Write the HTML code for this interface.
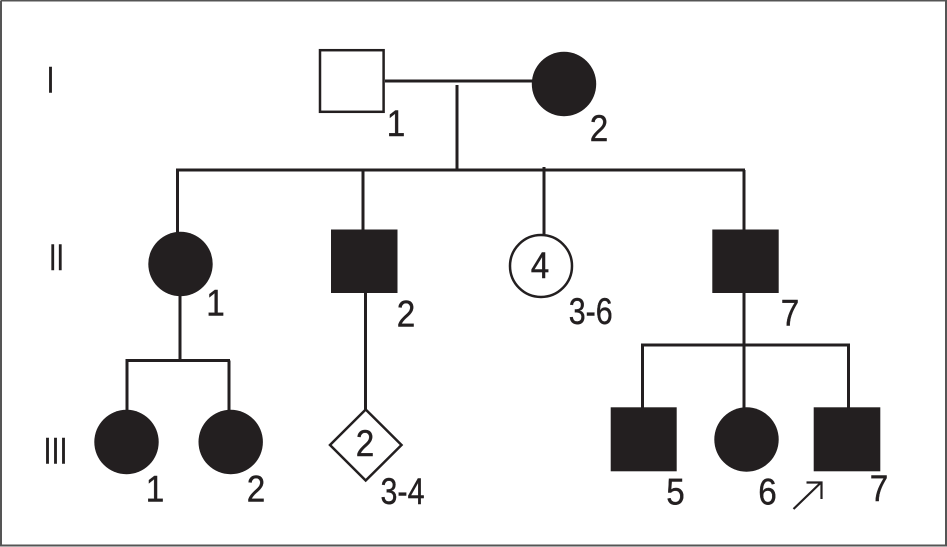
<!DOCTYPE html>
<html>
<head>
<meta charset="utf-8">
<style>
html,body{margin:0;padding:0;background:#fff;width:947px;height:547px;overflow:hidden}
svg{display:block}
text{font-family:"Liberation Sans",sans-serif;fill:#231f20;stroke:#231f20;stroke-width:.4;font-size:37px;text-anchor:middle}
.s{stroke:#231f20;stroke-width:3;fill:none}
.f{fill:#231f20;stroke:none}
</style>
</head>
<body>
<svg width="947" height="547" viewBox="0 0 947 547" xmlns="http://www.w3.org/2000/svg">
<rect width="947" height="547" fill="#fff"/>
<path d="M1 0.5V545.5H946V0.5H1" fill="none" stroke="#555" stroke-width="2"/>
<!-- connectors -->
<path class="s" d="M385 81H533M457 85V170M176 170H745M177.500 170V234M363 170V230M544 167V234M744 170V230M180 295V360.500M125.500 360.500H230M127 360.500V411M229 360.500V411M365.500 292V411M744 292V408M641 345H850M642.500 345V408M848.500 345V408"/>
<!-- gen I -->
<rect x="320" y="50.200" width="63.600" height="61.600" fill="#fff" stroke="#231f20" stroke-width="2.500"/>
<circle cx="564" cy="84" r="32.200" class="f"/>
<!-- gen II -->
<circle cx="180.500" cy="264" r="32.200" class="f"/>
<rect x="331" y="229.500" width="66.500" height="63.500" class="f"/>
<circle cx="541" cy="266" r="31" fill="#fff" stroke="#231f20" stroke-width="2.500"/>
<rect x="712.300" y="229.500" width="66.400" height="63.500" class="f"/>
<!-- gen III -->
<circle cx="126.500" cy="442" r="32.200" class="f"/>
<circle cx="230.700" cy="442" r="32.200" class="f"/>
<polygon points="365.700,409.500 401.500,445 365.700,480.500 330,445" fill="#fff" stroke="#231f20" stroke-width="2.500"/>
<rect x="610.700" y="407.300" width="66" height="64" class="f"/>
<circle cx="746.500" cy="439.500" r="32.200" class="f"/>
<rect x="813.700" y="407.300" width="66.600" height="64" class="f"/>
<!-- arrow -->
<path d="M793.500 509L821 482.500M806.500 482.500H821.500V499" fill="none" stroke="#231f20" stroke-width="2.200"/>
<!-- labels -->
<text x="50.500" y="92.700" textLength="8" lengthAdjust="spacingAndGlyphs">I</text>
<text x="56.500" y="270" textLength="15" lengthAdjust="spacingAndGlyphs">II</text>
<text x="55.500" y="463.300" textLength="24" lengthAdjust="spacingAndGlyphs">III</text>
<text x="396" y="136" textLength="18.500" lengthAdjust="spacingAndGlyphs">1</text>
<text x="599" y="141" textLength="18.500" lengthAdjust="spacingAndGlyphs">2</text>
<text x="215.500" y="315.700" textLength="18.500" lengthAdjust="spacingAndGlyphs">1</text>
<text x="406" y="326.700" textLength="18.500" lengthAdjust="spacingAndGlyphs">2</text>
<text x="540" y="278" textLength="18.500" lengthAdjust="spacingAndGlyphs">4</text>
<text x="590.700" y="324" textLength="44" lengthAdjust="spacingAndGlyphs">3-6</text>
<text x="790" y="325.700" textLength="18.500" lengthAdjust="spacingAndGlyphs">7</text>
<text x="155" y="501.700" textLength="18.500" lengthAdjust="spacingAndGlyphs">1</text>
<text x="256" y="501.700" textLength="18.500" lengthAdjust="spacingAndGlyphs">2</text>
<text x="365" y="456" textLength="18.500" lengthAdjust="spacingAndGlyphs">2</text>
<text x="402.500" y="504" textLength="44" lengthAdjust="spacingAndGlyphs">3-4</text>
<text x="675.500" y="504.700" textLength="18.500" lengthAdjust="spacingAndGlyphs">5</text>
<text x="767.500" y="504.700" textLength="18.500" lengthAdjust="spacingAndGlyphs">6</text>
<text x="879" y="501" textLength="18.500" lengthAdjust="spacingAndGlyphs">7</text>
</svg>
</body>
</html>
